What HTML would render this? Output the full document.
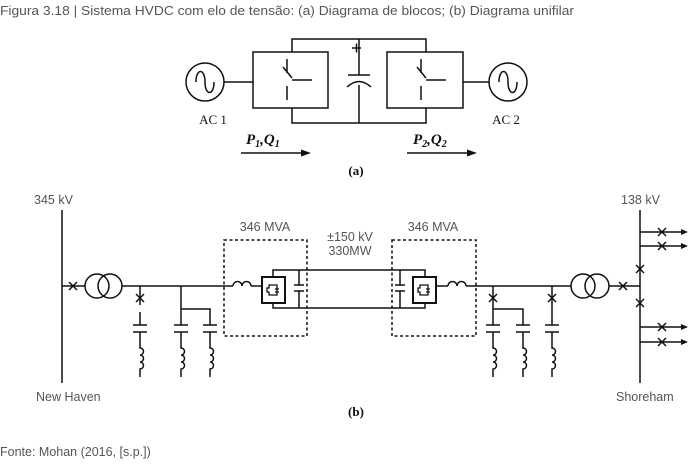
<!DOCTYPE html>
<html><head><meta charset="utf-8"><style>
html,body{margin:0;padding:0;background:#fff;}
svg{display:block;}
.t{font-family:"Liberation Sans",sans-serif;fill:#555;font-size:12.5px;}
.s{font-family:"Liberation Serif",serif;fill:#111;}
</style></head><body>
<svg width="700" height="470" viewBox="0 0 700 470" xmlns="http://www.w3.org/2000/svg">
<defs>
<g id="coil"><path d="M0 0 v4 a3.5 3.5 0 1 1 0 7 a3.5 3.5 0 1 1 0 7 a3.5 3.5 0 1 1 0 7 v8" fill="none" stroke="#111" stroke-width="1.5"/></g>
<g id="xx"><path d="M-4 -4 L4 4 M-4 4 L4 -4" stroke="#111" stroke-width="1.5"/></g>
<g id="conv"><rect x="0" y="0" width="23" height="26" fill="none" stroke="#111" stroke-width="2"/><path d="M7 8 h8 v10 h-8 v-3 h-2 v-4 h2 z M13 12 h4 M13 15 h4" fill="none" stroke="#111" stroke-width="1.3"/></g>
</defs>
<text class="t" x="0" y="15" textLength="574" lengthAdjust="spacingAndGlyphs">Figura 3.18 | Sistema HVDC com elo de tensão: (a) Diagrama de blocos; (b) Diagrama unifilar</text>

<g stroke="#111" stroke-width="1.5" fill="none">
<circle cx="205" cy="82" r="19"/>
<path d="M196 82 c0 -14 9 -14 9 0 c0 14 9 14 9 0"/>
<circle cx="508" cy="82" r="19"/>
<path d="M499 82 c0 -14 9 -14 9 0 c0 14 9 14 9 0"/>
<line x1="224" y1="82" x2="253" y2="82"/>
<line x1="463" y1="82" x2="489" y2="82"/>
<rect x="253" y="52" width="75" height="56"/>
<rect x="387" y="52" width="76" height="56"/>
<path d="M292 52 V39 H426 V52 M292 108 V123 H426 V108"/>
<path d="M359 39 V75 M359 85 V123"/>
<path d="M348 75 H370 M347 87 Q359 76 371 87"/>
<path d="M352 48 H361 M356.5 43.5 V52.5"/>
<path d="M287 59 V73 M287 86 V100 M283 67 L292 78 M292 80 H312"/>
<path d="M421 59 V73 M421 86 V100 M417 67 L426 78 M426 80 H446"/>
<line x1="241" y1="153" x2="305" y2="153"/>
<line x1="407" y1="153" x2="471" y2="153"/>
</g>
<path d="M311 153 L301 149.5 L301 156.5 Z M477 153 L467 149.5 L467 156.5 Z" fill="#111"/>
<text class="s" x="213" y="124" font-size="13" text-anchor="middle">AC 1</text>
<text class="s" x="506" y="124" font-size="13" text-anchor="middle">AC 2</text>
<text class="s" x="246" y="144" font-size="15" font-style="italic" font-weight="bold">P<tspan font-size="10" dy="3">1</tspan><tspan dy="-3">,Q</tspan><tspan font-size="10" dy="3">1</tspan></text>
<text class="s" x="413" y="144" font-size="15" font-style="italic" font-weight="bold">P<tspan font-size="10" dy="3">2</tspan><tspan dy="-3">,Q</tspan><tspan font-size="10" dy="3">2</tspan></text>
<text class="s" x="356" y="175" font-size="13" font-weight="bold" text-anchor="middle">(a)</text>

<g stroke="#111" stroke-width="1.5" fill="none">
<line x1="62" y1="210" x2="62" y2="383"/>
<line x1="62" y1="286" x2="85" y2="286"/>
<circle cx="97" cy="286" r="12"/><circle cx="110" cy="286" r="12"/>
<line x1="122" y1="286" x2="233" y2="286"/>
<path d="M233 286 a4.5 4.5 0 0 1 9 0 a4.5 4.5 0 0 1 9 0"/>
<line x1="251" y1="286" x2="262" y2="286"/>
<path d="M140 286 V305 M140 312 V325 M133 325 H147 M133 332 H147 M140 332 V344"/>
<path d="M181 286 V325 M174 325 H188 M174 332 H188 M181 332 V344 M181 309 H210 V325 M203 325 H217 M203 332 H217 M210 332 V344"/>
<path d="M273 277 V270 H425 V277 M273 303 V308 H425 V303"/>
<path d="M299 270 V285 M299 291 V308 M294 285 H304 M294 291 H304"/>
<path d="M400 270 V285 M400 291 V308 M395 285 H405 M395 291 H405"/>
<path d="M448 286 a4.5 4.5 0 0 1 9 0 a4.5 4.5 0 0 1 9 0"/>
<line x1="436" y1="286" x2="448" y2="286"/>
<line x1="466" y1="286" x2="571" y2="286"/>
<circle cx="583" cy="286" r="12"/><circle cx="597" cy="286" r="12"/>
<line x1="609" y1="286" x2="640" y2="286"/>
<path d="M493 286 V325 M486 325 H500 M486 332 H500 M493 332 V344 M493 309 H523 V325 M516 325 H530 M516 332 H530 M523 332 V344"/>
<path d="M552 286 V325 M545 325 H559 M545 332 H559 M552 332 V344"/>
<line x1="640" y1="210" x2="640" y2="383"/>
<path d="M640 232 H683 M640 246 H683 M640 327 H683 M640 342 H683"/>
</g>
<g stroke="#111" stroke-width="1.5" fill="none" stroke-dasharray="3,2.5">
<rect x="224" y="240" width="83" height="96"/>
<rect x="392" y="240" width="84" height="96"/>
</g>
<path d="M688 232 l-7 -3 v6 Z M688 246 l-7 -3 v6 Z M688 327 l-7 -3 v6 Z M688 342 l-7 -3 v6 Z" fill="#111"/>
<use href="#conv" x="262" y="277"/>
<use href="#conv" x="413" y="277"/>
<use href="#xx" x="73" y="286"/><use href="#xx" x="140" y="298"/>
<use href="#xx" x="493" y="298"/><use href="#xx" x="552" y="298"/>
<use href="#xx" x="623" y="286"/>
<use href="#xx" x="640" y="269"/><use href="#xx" x="640" y="303"/>
<use href="#xx" x="662" y="232"/><use href="#xx" x="662" y="246"/>
<use href="#xx" x="662" y="327"/><use href="#xx" x="662" y="342"/>
<use href="#coil" x="140" y="344"/><use href="#coil" x="181" y="344"/><use href="#coil" x="210" y="344"/>
<use href="#coil" x="493" y="344"/><use href="#coil" x="523" y="344"/><use href="#coil" x="552" y="344"/>

<text class="t" x="34" y="204">345 kV</text>
<text class="t" x="621" y="204">138 kV</text>
<text class="t" x="265" y="231" text-anchor="middle">346 MVA</text>
<text class="t" x="433" y="231" text-anchor="middle">346 MVA</text>
<text class="t" x="350" y="241" text-anchor="middle">±150 kV</text>
<text class="t" x="350" y="255" text-anchor="middle">330MW</text>
<text class="t" x="36" y="401">New Haven</text>
<text class="t" x="616" y="401">Shoreham</text>
<text class="s" x="356" y="416" font-size="13" font-weight="bold" text-anchor="middle">(b)</text>
<text class="t" x="0" y="456">Fonte: Mohan (2016, [s.p.])</text>
</svg>
</body></html>
